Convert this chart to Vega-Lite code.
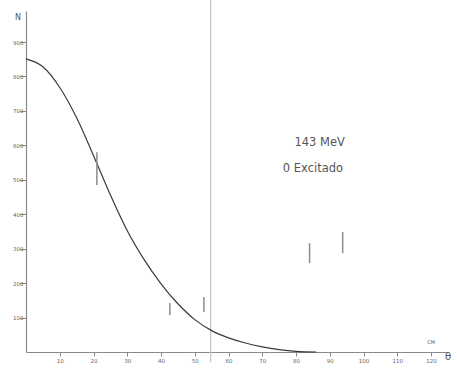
{
  "$schema": "https://vega.github.io/schema/vega-lite/v6.json",
  "width": 422,
  "height": 341,
  "autosize": "none",
  "padding": {"left": 26, "top": 11, "right": 9, "bottom": 16},
  "background": "white",
  "config": {
    "view": {"stroke": null},
    "font": "DejaVu Sans",
    "axis": {"grid": false, "title": null, "domainColor": "#8a8a8a", "domainWidth": 1.2, "tickColor": "#8a8a8a", "labelColor": "#666", "labelFontSize": 5.5, "labelOverlap": false, "labelSeparation": 0}
  },
  "datasets": {
    "curve": [
      {"theta": 0, "N": 851}, {"theta": 5, "N": 828}, {"theta": 10, "N": 768},
      {"theta": 15, "N": 680}, {"theta": 20, "N": 570}, {"theta": 25, "N": 456},
      {"theta": 30, "N": 352}, {"theta": 35, "N": 268}, {"theta": 40, "N": 198},
      {"theta": 45, "N": 140}, {"theta": 50, "N": 94}, {"theta": 55, "N": 62},
      {"theta": 60, "N": 41}, {"theta": 65, "N": 26}, {"theta": 70, "N": 15},
      {"theta": 75, "N": 7}, {"theta": 80, "N": 2}, {"theta": 86, "N": 0}
    ],
    "bars": [
      {"theta": 21, "N": 485, "N2": 580},
      {"theta": 42.6, "N": 107, "N2": 142},
      {"theta": 52.7, "N": 116, "N2": 160},
      {"theta": 84, "N": 258, "N2": 316},
      {"theta": 93.8, "N": 287, "N2": 348}
    ],
    "marker": [{"theta": 54.7, "N": -30, "N2": 1030}],
    "notes": [
      {"theta": 87, "N": 607, "txt": "143 MeV", "size": 11.5},
      {"theta": 85, "N": 531, "txt": "0 Excitado", "size": 11.5},
      {"theta": 120, "N": 28, "txt": "CM", "size": 5},
      {"theta": 125, "N": -15, "txt": "θ", "size": 10},
      {"theta": -2.4, "N": 970, "txt": "N", "size": 8}
    ]
  },
  "encoding": {
    "x": {"field": "theta", "type": "quantitative", "scale": {"domain": [0, 125], "nice": false},
          "axis": {"values": [10,20,30,40,50,60,70,80,90,100,110,120], "tickSize": 4, "labelPadding": 2, "labelOverlap": false, "labelBound": false, "labelFlush": false}},
    "y": {"field": "N", "type": "quantitative", "scale": {"domain": [0, 990], "nice": false},
          "axis": {"values": [100,200,300,400,500,600,700,800,900], "tickSize": 6, "labelPadding": -3, "labelOverlap": false}}
  },
  "layer": [
    {
      "data": {"name": "marker"},
      "mark": {"type": "rule", "color": "#c4c4c4", "strokeWidth": 1.2},
      "encoding": {"y2": {"field": "N2"}}
    },
    {
      "data": {"name": "curve"},
      "mark": {"type": "line", "color": "#3a3a3a", "strokeWidth": 1.2, "interpolate": "monotone"},
      "encoding": {}
    },
    {
      "data": {"name": "bars"},
      "mark": {"type": "rule", "color": "#8c8c8c", "strokeWidth": 1.5},
      "encoding": {"y2": {"field": "N2"}}
    },
    {
      "data": {"name": "notes"},
      "mark": {"type": "text", "color": "#555", "align": "center", "baseline": "middle"},
      "encoding": {
        "text": {"field": "txt"},
        "size": {"field": "size", "type": "quantitative", "scale": null}
      }
    }
  ]
}
